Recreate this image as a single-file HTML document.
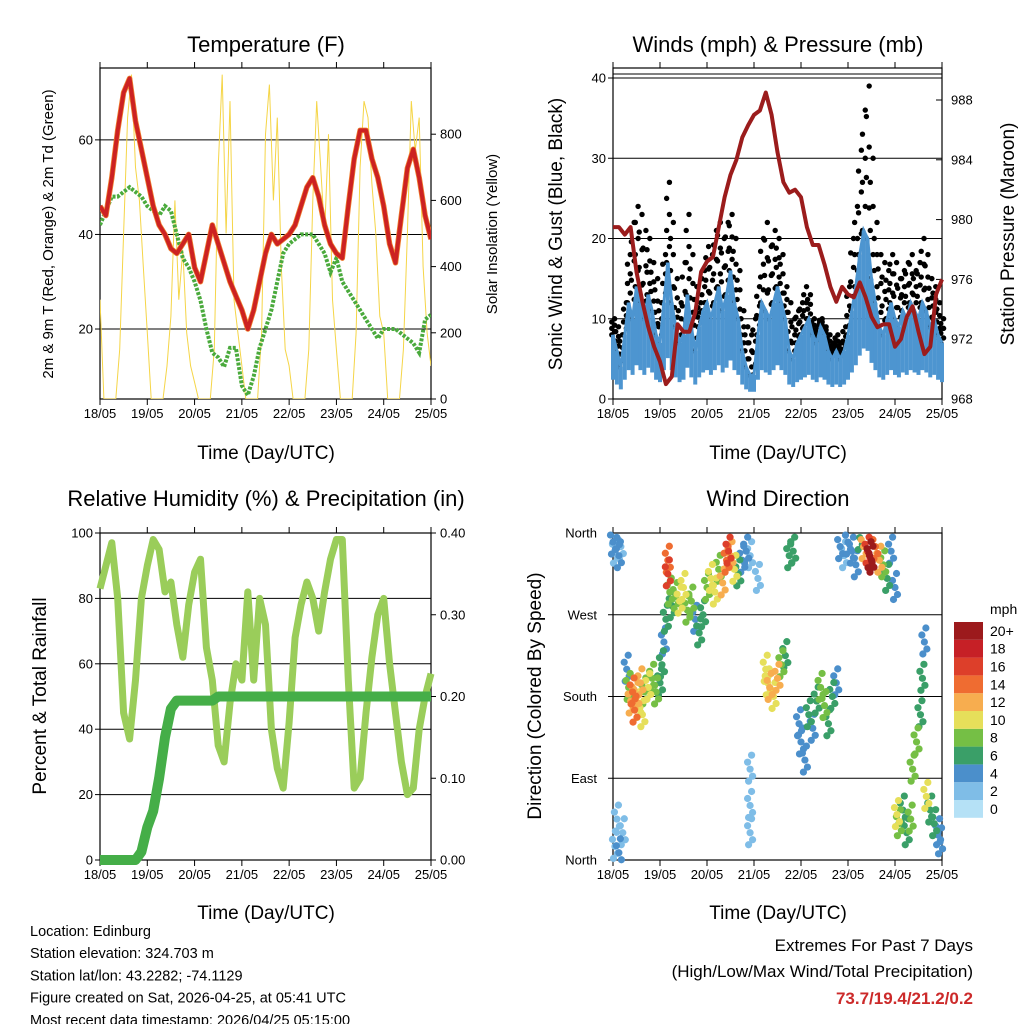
<!DOCTYPE html>
<html><head><meta charset="utf-8">
<style>
html,body{margin:0;padding:0;background:#fff;}
svg{display:block;font-family:"Liberation Sans",sans-serif;}
</style></head>
<body>
<svg id="c" width="1024" height="1024" viewBox="0 0 1024 1024" xmlns="http://www.w3.org/2000/svg"></svg>
<script>
// ---------- DATA ----------
const dayLabels = ["18/05","19/05","20/05","21/05","22/05","23/05","24/05","25/05"];
// 3-hourly, t = 0..168 h
const tempRed = [46,44,52,62,70,73,64,58,52,46,42,40,37,36,38,40,33,30,36,42,38,34,30,27,24,20,24,30,36,40,38,39,40,42,46,50,52,48,42,38,36,35,46,56,62,62,56,52,46,38,34,44,54,58,52,44,39];
const dewGreen = [42,45,48,48,49,50,49,48,46,45,44,46,45,40,35,33,30,26,20,15,14,12,16,16,8,6,10,16,20,24,30,36,38,39,40,40,40,38,36,32,35,30,28,26,24,22,20,18,20,20,20,19,18,17,15,22,23];
// 2-hourly solar insolation (W/m2)
const solar = [300,0,0,0,0,150,500,850,980,700,600,400,
               200,0,0,0,0,100,250,600,300,450,200,100,
               50,0,0,0,0,150,700,980,500,900,300,200,
               100,0,0,0,0,200,800,950,600,850,400,150,
               100,0,0,0,0,150,600,900,700,500,800,300,
               150,0,0,0,0,200,700,900,850,650,500,250,
               200,0,0,0,0,150,500,900,750,850,400,200,100];
// 2-hourly wind (mph)
const windMean = [8,6,4,8,12,10,14,12,10,13,11,8,7,12,17,12,9,7,8,13,9,6,9,11,12,10,12,14,11,13,16,12,10,6,4,3,3,8,12,11,10,12,14,12,10,6,5,7,8,9,10,8,7,9,8,6,5,6,5,6,8,11,14,18,21,20,15,12,9,8,10,12,10,9,11,10,12,11,10,12,11,9,10,8,7];
const windGust = [10,9,8,12,18,22,24,23,21,20,17,15,12,18,27,22,15,12,17,23,18,14,12,16,19,18,21,22,20,22,23,20,16,11,9,8,10,14,20,22,19,21,20,18,14,12,10,11,12,14,13,10,9,10,9,8,7,8,7,9,14,20,24,31,36,39,30,22,18,17,16,18,17,15,16,17,18,16,17,20,18,15,14,12,10];
// 3-hourly pressure (mb)
const pressure = [979.5,979.5,979,979.5,976.5,974.5,972.8,971.5,970.5,969,969.5,973,972.5,972.5,973.8,976.5,977.2,977.5,979.5,981.5,983,984,985.5,986.3,987,987.3,988.5,987,984.5,982.5,981.8,982,981.5,979.5,978.3,978.3,977,975.5,974.5,975.5,975,974.8,975.8,974.8,973.5,972.8,973,973,971.5,972,973.5,974.2,972.5,971,971.5,975,976];
// 3-hourly RH (%) and cumulative precip (in)
const rh = [83,90,97,80,45,37,55,80,90,98,95,82,85,72,62,78,88,92,65,55,35,30,48,60,55,82,55,80,72,40,28,22,42,68,78,85,80,70,82,92,98,98,55,22,25,45,62,75,80,60,45,30,20,22,40,50,57];
const precip = [0,0,0,0,0,0,0,0.01,0.04,0.06,0.10,0.15,0.185,0.195,0.195,0.195,0.195,0.195,0.195,0.195,0.2,0.2,0.2,0.2,0.2,0.2,0.2,0.2,0.2,0.2,0.2,0.2,0.2,0.2,0.2,0.2,0.2,0.2,0.2,0.2,0.2,0.2,0.2,0.2,0.2,0.2,0.2,0.2,0.2,0.2,0.2,0.2,0.2,0.2,0.2,0.2,0.2];
// wind direction scatter: hour, direction (deg), speed (mph)
const dirT = [0,1,2,3,4,1,3,5,2,7,8,9,10,11,12,13,14,15,16,18,20,22,24,25,26,27,28,28,29,30,32,34,36,38,40,42,44,46,48,50,52,54,56,58,59,60,62,64,66,68,70,70,70,70,74,78,79,80,82,84,86,88,90,92,95,96,98,100,102,104,106,108,110,112,114,116,118,120,122,124,126,128,130,131,132,134,136,138,140,142,144,145,146,148,150,152,153,155,157,158,159,160,162,164,166,167];
const dirD = [350,340,355,335,345,15,8,30,45,210,190,175,185,165,180,170,195,160,185,190,200,185,195,215,240,265,330,315,295,280,290,285,300,275,285,265,250,270,300,310,295,320,305,330,340,335,320,315,330,340,335,100,60,30,310,210,195,190,180,200,215,225,335,340,150,130,110,160,145,175,190,170,150,180,195,345,335,350,340,325,355,345,340,335,330,345,330,325,310,340,300,50,40,55,30,45,100,130,160,200,240,70,55,40,30,20];
const dirS = [3,2,4,3,2,2,3,1,2,4,8,12,13,14,11,10,12,9,8,10,7,8,6,5,4,6,14,16,8,6,7,9,10,8,7,4,5,6,8,9,10,8,11,14,16,12,9,6,4,3,2,1,1,1,2,9,10,11,10,12,7,5,5,6,4,3,4,5,3,6,8,7,5,6,4,3,2,3,4,4,5,12,16,19,20,14,12,8,5,4,3,10,8,6,5,7,7,8,6,5,4,9,6,5,4,3];
const cbLabels = ["0","2","4","6","8","10","12","14","16","18","20+"];
const cbColors = ["#b5e1f6","#7fbde7","#4b8fcb","#3a9f68","#75bf45","#e6df5a","#f7ad4f","#ef6c31","#dd3f2a","#c62026","#9c1a1c"];

// ---------- HELPERS ----------
const NS = "http://www.w3.org/2000/svg";
const svg = document.getElementById('c');
function el(tag, attrs, parent){ const e=document.createElementNS(NS,tag); for(const k in attrs) e.setAttribute(k,attrs[k]); (parent||svg).appendChild(e); return e; }
function txt(s, attrs, parent){ const e=el('text',attrs,parent); e.textContent=s; return e; }
function xScale(x0,x1){ return h => x0 + h*(x1-x0)/168; }
function linScale(v0,v1,p0,p1){ return v => p0 + (v-v0)*(p1-p0)/(v1-v0); }
function pathFrom(arr, step, xs, ys){ return arr.map((v,i)=>(i?'L':'M')+xs(i*step).toFixed(1)+','+ys(v).toFixed(1)).join(''); }
function colorFor(s){ let i=Math.min(10,Math.max(0,Math.round(s/2))); return cbColors[i]; }

function frame(P, name){
  const g=el('g',{});
  
  
  el('rect',{x:P.x0,y:P.y0,width:P.x1-P.x0,height:P.y1-P.y0,fill:'none',stroke:'#000','stroke-width':1.2},g);
  const xs=xScale(P.x0,P.x1);
  dayLabels.forEach((d,i)=>{
    const x=xs(i*24);
    el('line',{x1:x,y1:P.y1,x2:x,y2:P.y1+6,stroke:'#000','stroke-width':1},g);
    el('line',{x1:x,y1:P.y0,x2:x,y2:P.y0-6,stroke:'#000','stroke-width':1},g);
    const t=txt(d,{x:x,y:P.y1+19,'font-size':13,'text-anchor':'middle'},g);
    
    
  });
  return g;
}
function hgrid(P, y, g){ el('line',{x1:P.x0,y1:y,x2:P.x1,y2:y,stroke:'#000','stroke-width':1},g); }
function ytick(x, y, s, anchor, g){
  const t=txt(s,{x:x,y:y+4.5,'font-size':13,'text-anchor':anchor},g);
  
  
}
function title(s,x,y,size,name){ const t=txt(s,{x:x,y:y,'font-size':size,'text-anchor':'middle'});   return t; }
function vtitle(s,x,y,size,name){ const t=txt(s,{x:x,y:y,'font-size':size,'text-anchor':'middle',transform:`rotate(-90 ${x} ${y})`});   return t; }

// ---------- PANEL 1: TEMPERATURE ----------
(function(){
  const P={x0:100,x1:431,y0:68,y1:399};
  const xs=xScale(P.x0,P.x1), yT=linScale(5.2,75.2,399,68), yS=linScale(0,1000,399,68);
  const g=frame(P,'temperature-panel');
  const clip=el('clipPath',{id:'cp1'}); el('rect',{x:P.x0,y:P.y0,width:P.x1-P.x0,height:P.y1-P.y0},clip);
  [20,40,60].forEach(v=>{ hgrid(P,yT(v),g); ytick(93,yT(v),String(v),'end',g); el('line',{x1:P.x0,y1:yT(v),x2:P.x0-5,y2:yT(v),stroke:'#000'},g); });
  [0,200,400,600,800].forEach(v=>{ ytick(440,yS(v),String(v),'start',g); el('line',{x1:P.x1,y1:yS(v),x2:P.x1+5,y2:yS(v),stroke:'#000'},g); });
  const sol=el('path',{d:pathFrom(solar,2,xs,yS),fill:'none',stroke:'#f5d547','stroke-width':1,'clip-path':'url(#cp1)'});
   
  const dew=el('path',{d:pathFrom(dewGreen,3,xs,yT),fill:'none',stroke:'#4aaa3c','stroke-width':4,'stroke-dasharray':'3 1.5','clip-path':'url(#cp1)'});
   
  const or=el('path',{d:pathFrom(tempRed,3,xs,yT),fill:'none',stroke:'#f08030','stroke-width':5.5,'stroke-linejoin':'round','clip-path':'url(#cp1)'});
   
  const rd=el('path',{d:pathFrom(tempRed,3,xs,yT),fill:'none',stroke:'#cc2222','stroke-width':4,'stroke-linejoin':'round','clip-path':'url(#cp1)'});
   
  title('Temperature (F)',266,52,22,'temperature-title');
  title('Time (Day/UTC)',266,459,19,'temperature-x-title');
  vtitle('2m & 9m T (Red, Orange) & 2m Td (Green)',53,234,15,'temperature-y-title');
  vtitle('Solar Insolation (Yellow)',497,234,15,'solar-y-title');
})();

// ---------- PANEL 2: WINDS ----------
(function(){
  const P={x0:613,x1:942,y0:68,y1:399};
  const xs=xScale(P.x0,P.x1), yW=linScale(0,40,399,78), yP=linScale(968,988,399,100);
  const g=frame(P,'winds-panel');
  [10,20,30,40].forEach(v=>hgrid(P,yW(v),g));
  hgrid(P,74,g);
  [0,10,20,30,40].forEach(v=>{ ytick(606,yW(v),String(v),'end',g); el('line',{x1:P.x0,y1:yW(v),x2:P.x0-5,y2:yW(v),stroke:'#000'},g); });
  [968,972,976,980,984,988].forEach(v=>{ ytick(951,yP(v),String(v),'start',g); el('line',{x1:P.x1,y1:yP(v),x2:P.x1-6,y2:yP(v),stroke:'#000'},g); });
  const gg=el('g',{});
   
  windGust.forEach((v,i)=>{
    const x=xs(i*2), m=windMean[i];
    for(let k=0;k<=5;k++){
      const val=m+(v-m)*k/5;
      el('circle',{cx:x+((k%2)?1.6:-1.2),cy:yW(val),r:2.7,fill:'#000'},gg);
    }
  });
  const gb=el('g',{});
   
  windMean.forEach((v,i)=>{ const x=xs(i*2); el('line',{x1:x,y1:yW(Math.max(0,v*0.3)),x2:x,y2:yW(v),stroke:'#4d95d0','stroke-width':4},gb); });
  el('path',{d:pathFrom(windMean,2,xs,yW),fill:'none',stroke:'#4d95d0','stroke-width':3},gb);
  const pr=el('path',{d:pathFrom(pressure,3,xs,yP),fill:'none',stroke:'#9b1c1c','stroke-width':4,'stroke-linejoin':'round'});
   
  title('Winds (mph) & Pressure (mb)',778,52,22,'winds-title');
  title('Time (Day/UTC)',778,459,19,'winds-x-title');
  vtitle('Sonic Wind & Gust (Blue, Black)',562,234,19,'wind-y-title');
  vtitle('Station Pressure (Maroon)',1014,234,19,'pressure-y-title');
})();

// ---------- PANEL 3: RH & PRECIP ----------
(function(){
  const P={x0:100,x1:431,y0:533,y1:860};
  const xs=xScale(P.x0,P.x1), yR=linScale(0,100,860,533), yPr=linScale(0,0.4,860,533);
  const g=frame(P,'humidity-panel');
  [20,40,60,80].forEach(v=>hgrid(P,yR(v),g));
  [0,20,40,60,80,100].forEach(v=>{ ytick(93,yR(v),String(v),'end',g); el('line',{x1:P.x0,y1:yR(v),x2:P.x0-5,y2:yR(v),stroke:'#000'},g); });
  ["0.00","0.10","0.20","0.30","0.40"].forEach(s=>{ const v=parseFloat(s); ytick(440,yPr(v),s,'start',g); el('line',{x1:P.x1,y1:yPr(v),x2:P.x1+5,y2:yPr(v),stroke:'#000'},g); });
  const r=el('path',{d:pathFrom(rh,3,xs,yR),fill:'none',stroke:'#9acd5a','stroke-width':7,'stroke-linejoin':'round'});
   
  const p=el('path',{d:pathFrom(precip,3,xs,yPr),fill:'none',stroke:'#45ae48','stroke-width':10,'stroke-linejoin':'round'});
   
  title('Relative Humidity (%) & Precipitation (in)',266,506,22,'humidity-title');
  title('Time (Day/UTC)',266,919,19,'humidity-x-title');
  vtitle('Percent & Total Rainfall',46,696,19,'humidity-y-title');
})();

// ---------- PANEL 4: WIND DIRECTION ----------
(function(){
  const P={x0:613,x1:942,y0:533,y1:860};
  const xs=xScale(P.x0,P.x1), yD=linScale(0,360,860,533);
  const g=frame(P,'direction-panel');
  [90,180,270].forEach(v=>hgrid(P,yD(v),g));
  [[360,'North'],[270,'West'],[180,'South'],[90,'East'],[0,'North']].forEach(a=>{ ytick(597,yD(a[0]),a[1],'end',g); el('line',{x1:P.x0,y1:yD(a[0]),x2:P.x0-5,y2:yD(a[0]),stroke:'#000'},g); });
  const gd=el('g',{});
   
  const order=dirS.map((s,i)=>i).sort((a,b)=>dirS[a]-dirS[b]);
  const offs=[[0,0],[-2.5,-7],[2.5,7],[1.5,-14],[-1.5,12]];
  order.forEach(i=>{
    offs.forEach(o=>{
      const cy=yD(dirD[i])+o[1];
      if(cy<P.y0||cy>P.y1) return;
      el('circle',{cx:xs(dirT[i])+o[0],cy:cy,r:3.6,fill:colorFor(dirS[i])},gd);
    });
  });
  // colorbar
  const cb=el('g',{});
   
  const h=17.8, top=622;
  cbColors.forEach((c,i)=>{ const y=top+(10-i)*h; el('rect',{x:954,y:y,width:29,height:h,fill:c},cb);
    txt(cbLabels[i],{x:990,y:y+h/2+5,'font-size':14},cb); });
  txt('mph',{x:990,y:614,'font-size':14},cb);
  title('Wind Direction',778,506,22,'direction-title');
  title('Time (Day/UTC)',778,919,19,'direction-x-title');
  vtitle('Direction (Colored By Speed)',541,696,19,'direction-y-title');
})();

// ---------- FOOTER ----------
(function(){
  const lines=["Location: Edinburg","Station elevation: 324.703 m","Station lat/lon: 43.2282; -74.1129","Figure created on Sat, 2026-04-25, at 05:41 UTC","Most recent data timestamp: 2026/04/25 05:15:00"];
  lines.forEach((s,i)=>{ const t=txt(s,{x:30,y:936+i*22.2,'font-size':14.5});   });
  const a=txt('Extremes For Past 7 Days',{x:973,y:951,'font-size':17,'text-anchor':'end'});  
  const b=txt('(High/Low/Max Wind/Total Precipitation)',{x:973,y:977,'font-size':17,'text-anchor':'end'});  
  const c=txt('73.7/19.4/21.2/0.2',{x:973,y:1004,'font-size':17,'font-weight':'bold',fill:'#cc2a2a','text-anchor':'end'});  
})();
</script>
</body></html>
